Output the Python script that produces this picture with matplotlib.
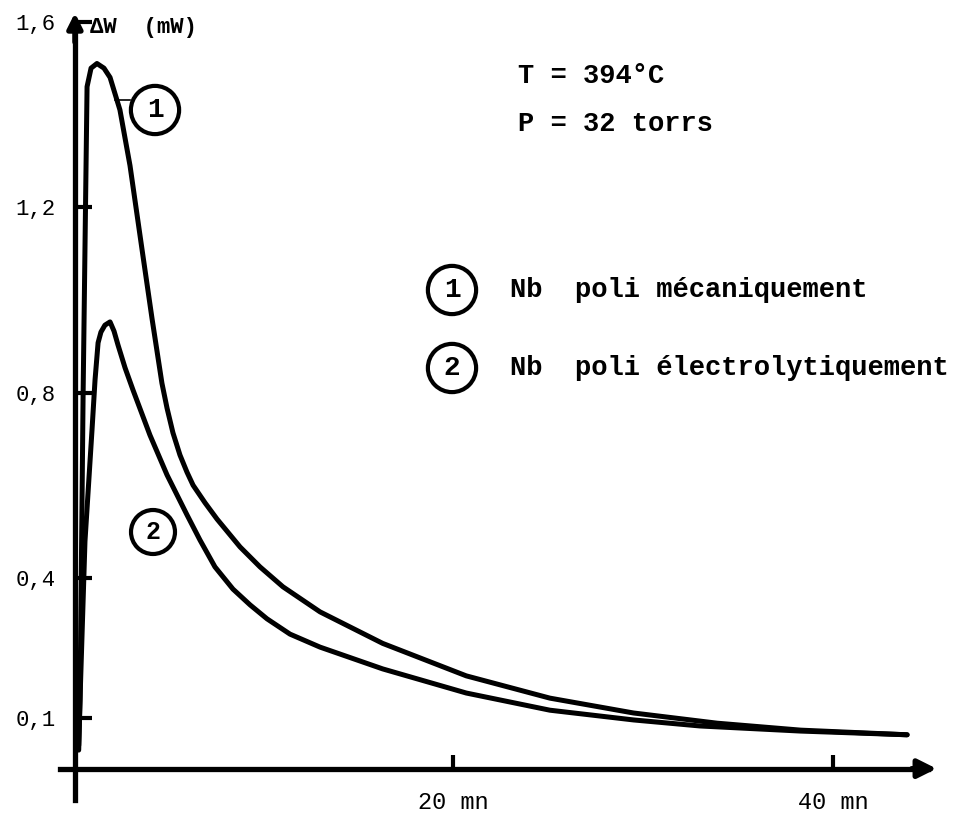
import matplotlib.pyplot as plt

# Desorption trace, Nb at 394 C / 32 torr: time (mn) and power (mW)
t_meca = [0.3, 0.37, 0.53, 0.63, 0.74, 0.95, 1.26, 1.63, 1.95, 2.47, 3.0, 3.63,
          4.16, 4.68, 4.95, 5.26, 5.63, 6.0, 6.32, 6.95, 7.58, 8.79, 9.84, 11.05,
          13.0, 16.3, 20.7, 25.1, 29.5, 33.9, 38.3, 43.9]
w_meca = [0.03, 0.14, 0.79, 1.11, 1.46, 1.50, 1.51, 1.50, 1.48, 1.41, 1.29, 1.11,
          0.96, 0.821, 0.767, 0.714, 0.666, 0.629, 0.601, 0.563, 0.528, 0.468, 0.425, 0.382,
          0.328, 0.26, 0.19, 0.142, 0.110, 0.088, 0.073, 0.063]

t_elec = [0.3, 0.37, 0.63, 1.0, 1.16, 1.32, 1.47, 1.68, 1.95, 2.16, 2.37, 2.74,
          3.16, 4.05, 4.95, 6.0, 6.68, 7.47, 8.42, 9.32, 10.21, 11.42, 13.0, 16.3,
          20.7, 25.1, 29.5, 33.0, 38.3, 43.9]
w_elec = [0.04, 0.14, 0.48, 0.72, 0.828, 0.908, 0.931, 0.946, 0.953, 0.933, 0.903, 0.854,
          0.806, 0.709, 0.623, 0.537, 0.483, 0.425, 0.377, 0.343, 0.313, 0.280, 0.252, 0.205,
          0.153, 0.116, 0.095, 0.082, 0.071, 0.063]

yticks = [0.1, 0.4, 0.8, 1.2, 1.6]
ylabels = ['0,1', '0,4', '0,8', '1,2', '1,6']
xticks = [20, 40]
xlabels = ['20 mn', '40 mn']

W, H = 957, 816
mono = 'Liberation Mono'

fig = plt.figure(figsize=(W / 100, H / 100), dpi=100)
ax = fig.add_axes([6.5 / W, (H - 810.4) / H, 950 / W, 807.2 / H])
ax.set_xlim(-3.5, 46.5)
ax.set_ylim(-0.1, 1.64)
ax.patch.set_visible(False)

ax.plot(t_meca, w_meca, color='black', lw=3.6, solid_capstyle='round', solid_joinstyle='round')
ax.plot(t_elec, w_elec, color='black', lw=3.6, solid_capstyle='round', solid_joinstyle='round')

# axes drawn as crossing lines with arrow heads
for s in ['top', 'right']:
    ax.spines[s].set_visible(False)
ax.spines['left'].set_position(('data', 0.1))
ax.spines['bottom'].set_position(('data', -0.01))
ax.spines['left'].set_bounds(-0.078, 1.6)
ax.spines['bottom'].set_bounds(-0.7, 45)
for s in ['left', 'bottom']:
    ax.spines[s].set_linewidth(3.8)
ax.annotate('', xy=(45.6, -0.01), xytext=(44.0, -0.01),
            arrowprops=dict(arrowstyle='-|>', lw=3.8, mutation_scale=28, color='black'))
ax.annotate('', xy=(0.1, 1.625), xytext=(0.1, 1.55),
            arrowprops=dict(arrowstyle='-|>', lw=3.8, mutation_scale=22, color='black'))

ax.set_yticks(yticks, labels=ylabels)
ax.set_xticks(xticks, labels=xlabels)
ax.tick_params(axis='y', direction='in', length=12, width=3, pad=14, labelsize=16)
ax.tick_params(axis='x', direction='in', length=10, width=3, pad=16, labelsize=17)
for lab in ax.get_yticklabels() + ax.get_xticklabels():
    lab.set_fontfamily(mono)

def px(x, y):
    return x / W, 1 - y / H

fig.text(*px(90, 28), 'ΔW  (mW)', family=mono, fontsize=16, weight='bold', va='center')
fig.text(*px(518, 76), 'T = 394°C', family=mono, fontsize=19.5, weight='bold', va='center')
fig.text(*px(518, 124), 'P = 32 torrs', family=mono, fontsize=19.5, weight='bold', va='center')

circ = dict(boxstyle='circle,pad=0.4', fc='white', ec='black', lw=3)
fig.text(*px(155, 110), '1', family=mono, fontsize=20, weight='bold', ha='center', va='center', bbox=circ)
fig.text(*px(153, 532), '2', family=mono, fontsize=18, weight='bold', ha='center', va='center', bbox=circ)
ax.plot([2.21, 3.0], [1.431, 1.431], color='black', lw=1.2)

fig.text(*px(452, 290), '1', family=mono, fontsize=20, weight='bold', ha='center', va='center', bbox=circ)
fig.text(*px(452, 368), '2', family=mono, fontsize=20, weight='bold', ha='center', va='center', bbox=circ)
fig.text(*px(510, 290), 'Nb  poli mécaniquement', family=mono, fontsize=19.5, weight='bold', va='center')
fig.text(*px(510, 368), 'Nb  poli électrolytiquement', family=mono, fontsize=19.5, weight='bold', va='center')

fig.savefig('out.png', dpi=100)
